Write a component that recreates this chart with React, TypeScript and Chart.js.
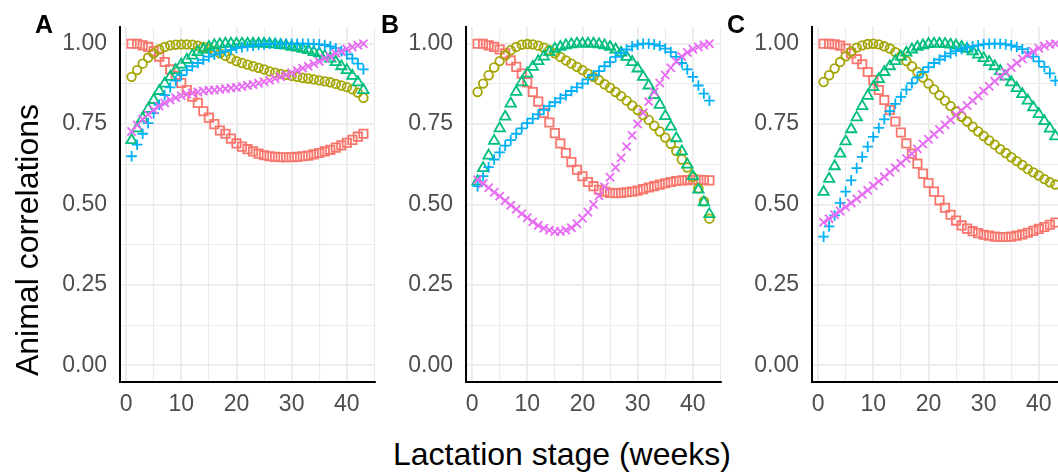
import React, { useEffect, useRef } from 'react';
import { Chart, registerables } from 'chart.js';

Chart.register(...registerables);

// ---- data ----
const weeks = [1,2,3,4,5,6,7,8,9,10,11,12,13,14,15,16,17,18,19,20,21,22,23,24,25,26,27,28,29,30,31,32,33,34,35,36,37,38,39,40,41,42,43];

const xTicks = [0, 5, 10, 15, 20, 25, 30, 35, 40, 45];
const xTickLabels = ['0', '', '10', '', '20', '', '30', '', '40', ''];
const yTicks = [0, 0.125, 0.25, 0.375, 0.5, 0.625, 0.75, 0.875, 1];
const yTickLabels = ['0.00', '', '0.25', '', '0.50', '', '0.75', '', '1.00'];

const panelTags = ['A', 'B', 'C'];

// Panel A
const redA = [1.0, 1.0, 0.995, 0.99, 0.977, 0.96, 0.943, 0.92, 0.9, 0.878, 0.856, 0.835, 0.816, 0.79, 0.77, 0.75, 0.73, 0.72, 0.705, 0.69, 0.68, 0.672, 0.665, 0.658, 0.653, 0.65, 0.648, 0.647, 0.647, 0.647, 0.648, 0.65, 0.652, 0.656, 0.66, 0.665, 0.67, 0.677, 0.684, 0.692, 0.701, 0.711, 0.72];
const oliveA = [0.897, 0.918, 0.938, 0.957, 0.97, 0.982, 0.99, 0.995, 0.997, 0.998, 0.998, 0.997, 0.994, 0.99, 0.984, 0.977, 0.97, 0.962, 0.954, 0.946, 0.94, 0.935, 0.93, 0.925, 0.92, 0.914, 0.91, 0.906, 0.903, 0.9, 0.897, 0.894, 0.892, 0.889, 0.886, 0.883, 0.88, 0.875, 0.87, 0.865, 0.858, 0.848, 0.832];
const greenA = [0.7, 0.737, 0.768, 0.797, 0.825, 0.853, 0.876, 0.897, 0.918, 0.935, 0.95, 0.963, 0.974, 0.982, 0.99, 0.995, 0.998, 1.0, 1.0, 1.0, 1.0, 1.0, 1.0, 1.0, 1.0, 0.999, 0.998, 0.996, 0.994, 0.99, 0.988, 0.984, 0.98, 0.974, 0.97, 0.962, 0.954, 0.943, 0.93, 0.918, 0.9, 0.88, 0.856];
const blueA = [0.65, 0.686, 0.72, 0.753, 0.784, 0.81, 0.84, 0.864, 0.885, 0.902, 0.918, 0.93, 0.94, 0.95, 0.96, 0.966, 0.972, 0.977, 0.981, 0.986, 0.989, 0.992, 0.994, 0.996, 0.998, 1.0, 1.0, 1.0, 1.0, 1.0, 1.0, 1.0, 1.0, 0.999, 0.998, 0.996, 0.992, 0.986, 0.977, 0.967, 0.954, 0.938, 0.92];
const magentaA = [0.727, 0.747, 0.765, 0.78, 0.794, 0.806, 0.816, 0.825, 0.832, 0.838, 0.843, 0.847, 0.85, 0.853, 0.855, 0.856, 0.858, 0.86, 0.862, 0.864, 0.867, 0.87, 0.873, 0.877, 0.882, 0.886, 0.892, 0.897, 0.903, 0.91, 0.917, 0.924, 0.93, 0.938, 0.945, 0.954, 0.96, 0.97, 0.976, 0.984, 0.99, 0.995, 1.0];

// Panel B
const redB = [1.0, 1.0, 0.995, 0.99, 0.982, 0.97, 0.948, 0.928, 0.907, 0.88, 0.85, 0.82, 0.785, 0.755, 0.722, 0.69, 0.66, 0.632, 0.608, 0.588, 0.57, 0.557, 0.546, 0.54, 0.536, 0.535, 0.536, 0.538, 0.54, 0.543, 0.548, 0.553, 0.557, 0.562, 0.566, 0.57, 0.573, 0.575, 0.576, 0.577, 0.577, 0.576, 0.575];
const oliveB = [0.85, 0.876, 0.902, 0.926, 0.946, 0.964, 0.98, 0.99, 0.997, 0.999, 0.998, 0.994, 0.988, 0.98, 0.97, 0.959, 0.948, 0.938, 0.928, 0.918, 0.907, 0.897, 0.887, 0.874, 0.863, 0.85, 0.837, 0.823, 0.808, 0.794, 0.778, 0.763, 0.745, 0.727, 0.708, 0.689, 0.666, 0.64, 0.615, 0.585, 0.55, 0.51, 0.456];
const greenB = [0.572, 0.613, 0.652, 0.698, 0.737, 0.773, 0.814, 0.85, 0.88, 0.907, 0.928, 0.946, 0.96, 0.974, 0.984, 0.99, 0.995, 0.998, 1.0, 1.0, 1.0, 1.0, 0.998, 0.995, 0.99, 0.982, 0.972, 0.959, 0.943, 0.923, 0.897, 0.87, 0.84, 0.81, 0.775, 0.742, 0.706, 0.665, 0.624, 0.588, 0.546, 0.507, 0.47];
const blueB = [0.557, 0.588, 0.616, 0.64, 0.662, 0.683, 0.7, 0.72, 0.737, 0.753, 0.767, 0.78, 0.794, 0.806, 0.818, 0.83, 0.84, 0.853, 0.864, 0.876, 0.889, 0.902, 0.915, 0.93, 0.943, 0.959, 0.971, 0.982, 0.992, 0.997, 1.0, 1.0, 0.998, 0.993, 0.985, 0.974, 0.959, 0.94, 0.92, 0.897, 0.87, 0.845, 0.823];
const magentaB = [0.577, 0.565, 0.552, 0.538, 0.526, 0.512, 0.498, 0.485, 0.471, 0.459, 0.446, 0.435, 0.426, 0.42, 0.416, 0.416, 0.42, 0.428, 0.44, 0.457, 0.476, 0.5, 0.527, 0.555, 0.585, 0.615, 0.645, 0.68, 0.715, 0.75, 0.785, 0.82, 0.85, 0.878, 0.903, 0.925, 0.945, 0.96, 0.973, 0.983, 0.99, 0.996, 1.0];

// Panel C
const redC = [1.0, 1.0, 0.998, 0.994, 0.985, 0.97, 0.952, 0.936, 0.912, 0.887, 0.856, 0.825, 0.794, 0.758, 0.724, 0.69, 0.658, 0.627, 0.596, 0.567, 0.54, 0.513, 0.49, 0.468, 0.45, 0.435, 0.425, 0.417, 0.411, 0.406, 0.403, 0.4, 0.399, 0.399, 0.4, 0.403, 0.407, 0.412, 0.418, 0.424, 0.43, 0.437, 0.444];
const oliveC = [0.881, 0.902, 0.923, 0.943, 0.961, 0.976, 0.988, 0.995, 0.999, 1.0, 0.998, 0.992, 0.985, 0.974, 0.961, 0.946, 0.93, 0.912, 0.895, 0.876, 0.858, 0.84, 0.823, 0.806, 0.789, 0.773, 0.758, 0.742, 0.727, 0.713, 0.699, 0.686, 0.672, 0.66, 0.647, 0.635, 0.623, 0.61, 0.6, 0.59, 0.579, 0.569, 0.562];
const greenC = [0.539, 0.58, 0.619, 0.658, 0.696, 0.734, 0.771, 0.806, 0.838, 0.865, 0.89, 0.912, 0.93, 0.946, 0.96, 0.972, 0.982, 0.99, 0.995, 0.999, 1.0, 1.0, 0.999, 0.997, 0.994, 0.99, 0.984, 0.976, 0.966, 0.955, 0.943, 0.93, 0.915, 0.898, 0.88, 0.862, 0.843, 0.823, 0.802, 0.781, 0.759, 0.736, 0.712];
const blueC = [0.4, 0.432, 0.466, 0.505, 0.54, 0.575, 0.613, 0.648, 0.68, 0.71, 0.738, 0.765, 0.79, 0.813, 0.835, 0.857, 0.877, 0.895, 0.912, 0.927, 0.94, 0.951, 0.961, 0.97, 0.977, 0.983, 0.988, 0.992, 0.995, 0.998, 1.0, 1.0, 1.0, 0.998, 0.995, 0.99, 0.983, 0.973, 0.96, 0.945, 0.928, 0.908, 0.885];
const magentaC = [0.445, 0.456, 0.468, 0.48, 0.492, 0.505, 0.518, 0.531, 0.544, 0.558, 0.572, 0.586, 0.6, 0.614, 0.628, 0.643, 0.658, 0.673, 0.688, 0.703, 0.718, 0.733, 0.748, 0.763, 0.778, 0.793, 0.808, 0.823, 0.838, 0.853, 0.868, 0.883, 0.898, 0.912, 0.926, 0.94, 0.953, 0.965, 0.976, 0.986, 0.993, 0.998, 1.0];

const panelsData = [
  [redA, oliveA, greenA, blueA, magentaA],
  [redB, oliveB, greenB, blueB, magentaB],
  [redC, oliveC, greenC, blueC, magentaC],
];

// ---- styles ----
const seriesColors = ['#F8766D', '#A3A500', '#00BF7D', '#00B0F6', '#E76BF3'];
const seriesShapes = ['rect', 'circle', 'triangle', 'cross', 'crossRot'];
const seriesRadius = [5.9, 4.3, 6.0, 5.3, 5.8];

const FONT = "'Liberation Sans', Arial, Helvetica, sans-serif";
const PANEL_LEFTS = [120, 466, 812];
const PLOT_W = 255;
const PLOT_TOP = 27;
const PLOT_BOTTOM = 382;
const YAXIS_W = 70;
const RIGHT_PAD = 12;
const CANVAS_H = 430;
const CANVAS_W = YAXIS_W + PLOT_W + RIGHT_PAD;

const X_MIN = -1.1;
const X_MAX = 45.1;
const Y_MIN = -0.052;
const Y_MAX = 1.052;

function Panel({ index }: { index: number }) {
  const ref = useRef<HTMLCanvasElement | null>(null);
  useEffect(() => {
    if (!ref.current) return;
    const series = panelsData[index];
    const chart = new Chart(ref.current, {
      type: 'scatter',
      data: {
        datasets: series.map((vals, si) => ({
          label: 's' + si,
          data: weeks.map((w, i) => ({ x: w, y: vals[i] })),
          pointStyle: seriesShapes[si] as any,
          pointRadius: seriesRadius[si],
          pointBorderColor: seriesColors[si],
          pointBackgroundColor: 'rgba(0,0,0,0)',
          pointBorderWidth: 1.8,
          showLine: false,
          order: 5 - si,
        })),
      },
      options: {
        responsive: false,
        animation: false,
        events: [],
        layout: { padding: { top: PLOT_TOP, right: RIGHT_PAD, left: 0, bottom: 0 } },
        plugins: {
          legend: { display: false },
          tooltip: { enabled: false },
          title: { display: false },
        },
        scales: {
          x: {
            type: 'linear',
            min: X_MIN,
            max: X_MAX,
            afterBuildTicks: (scale: any) => {
              scale.ticks = xTicks.map((v) => ({ value: v }));
            },
            afterFit: (scale: any) => {
              scale.height = CANVAS_H - PLOT_BOTTOM;
            },
            ticks: {
              autoSkip: false,
              maxRotation: 0,
              minRotation: 0,
              padding: 9,
              color: '#4D4D4D',
              font: { family: FONT, size: 23 },
              callback: (v: any) => {
                const k = xTicks.indexOf(Number(v));
                return k >= 0 ? xTickLabels[k] : '';
              },
            },
            grid: {
              drawTicks: false,
              color: '#EBEBEB',
              lineWidth: (ctx: any) => (ctx.tick && ctx.tick.value % 10 === 0 ? 1.8 : 1.1),
            },
            border: { display: true, color: '#000000', width: 2 },
          },
          y: {
            type: 'linear',
            min: Y_MIN,
            max: Y_MAX,
            afterBuildTicks: (scale: any) => {
              scale.ticks = yTicks.map((v) => ({ value: v }));
            },
            afterFit: (scale: any) => {
              scale.width = YAXIS_W;
            },
            ticks: {
              autoSkip: false,
              padding: 13,
              color: '#4D4D4D',
              font: { family: FONT, size: 23 },
              callback: (v: any) => {
                const k = yTicks.indexOf(Number(v));
                return k >= 0 ? yTickLabels[k] : '';
              },
            },
            grid: {
              drawTicks: false,
              color: '#EBEBEB',
              lineWidth: (ctx: any) => (ctx.tick && Math.abs((ctx.tick.value * 4) % 1) < 1e-9 ? 1.8 : 1.1),
            },
            border: { display: true, color: '#000000', width: 2 },
          },
        },
      },
    });
    return () => chart.destroy();
  }, [index]);

  return (
    <canvas
      ref={ref}
      width={CANVAS_W}
      height={CANVAS_H}
      style={{
        position: 'absolute',
        left: PANEL_LEFTS[index] - YAXIS_W,
        top: 0,
        width: CANVAS_W,
        height: CANVAS_H,
      }}
    />
  );
}

export default function App() {
  return (
    <div
      style={{
        position: 'fixed',
        left: 0,
        top: 0,
        width: 1058,
        height: 472,
        overflow: 'hidden',
        background: '#FFFFFF',
        fontFamily: FONT,
      }}
    >
      {[0, 1, 2].map((i) => (
        <Panel key={i} index={i} />
      ))}
      {panelTags.map((t, i) => (
        <div
          key={t}
          style={{
            position: 'absolute',
            left: 35 + i * 346,
            top: 12,
            fontSize: 25,
            lineHeight: '25px',
            fontWeight: 'bold',
            color: '#000',
          }}
        >
          {t}
        </div>
      ))}
      <div
        style={{
          position: 'absolute',
          left: 27 - 250,
          top: 240 - 16,
          width: 500,
          height: 32,
          lineHeight: '32px',
          fontSize: 32,
          textAlign: 'center',
          color: '#000',
          transform: 'rotate(-90deg)',
          transformOrigin: '50% 50%',
          whiteSpace: 'nowrap',
        }}
      >
        Animal correlations
      </div>
      <div
        style={{
          position: 'absolute',
          left: 562 - 300,
          top: 438,
          width: 600,
          height: 32,
          lineHeight: '32px',
          fontSize: 32,
          textAlign: 'center',
          color: '#000',
          whiteSpace: 'nowrap',
        }}
      >
        Lactation stage (weeks)
      </div>
    </div>
  );
}
